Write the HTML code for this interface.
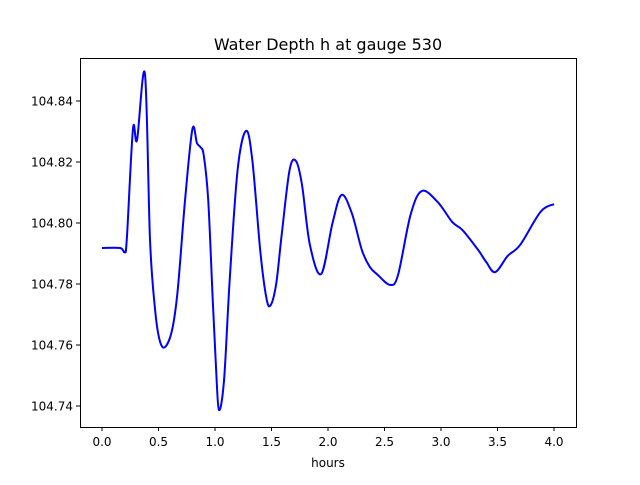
<!DOCTYPE html>
<html><head><meta charset="utf-8"><style>
body{margin:0;background:#fff;}
svg text{font-family:"DejaVu Sans","Liberation Sans",sans-serif;font-size:12px;fill:#000;}
</style></head><body>
<svg id="chart" width="640" height="480" xmlns="http://www.w3.org/2000/svg">
<rect width="640" height="480" fill="#fff"/>
<text x="328" y="50" text-anchor="middle" style="font-size:16px">Water Depth h at gauge 530</text>
<g id="axes"></g>
<path id="line" fill="none" stroke="#0000ff" stroke-width="2" stroke-linejoin="round"/>
<rect x="80.5" y="58.5" width="496" height="369" fill="none" stroke="#000" stroke-width="1"/>
<text x="328" y="467" text-anchor="middle">hours</text>
</svg>
<script>
const hours=[0,0.16,0.20,0.22,0.274,0.31,0.38,0.425,0.47,0.51,0.557,0.62,0.67,0.735,0.80,0.84,0.87,0.90,0.94,0.98,1.01,1.035,1.08,1.13,1.20,1.274,1.33,1.40,1.45,1.487,1.54,1.59,1.66,1.717,1.77,1.84,1.94,2.04,2.12,2.21,2.30,2.37,2.44,2.55,2.62,2.73,2.83,2.97,3.10,3.19,3.33,3.40,3.48,3.59,3.70,3.88,4.0];
const depth=[104.7918,104.7918,104.7905,104.7950,104.8308,104.8272,104.8489,104.7944,104.7715,104.7616,104.7593,104.7649,104.7780,104.8075,104.8308,104.8262,104.8249,104.8223,104.8075,104.7747,104.7518,104.7387,104.7485,104.7813,104.8174,104.8302,104.8207,104.7911,104.7764,104.7728,104.7797,104.7961,104.8174,104.8203,104.8125,104.7928,104.7833,104.8000,104.8092,104.8033,104.7911,104.7856,104.7830,104.7797,104.7830,104.8026,104.8105,104.8069,104.8003,104.7977,104.7911,104.7872,104.7839,104.7892,104.7928,104.8036,104.8062];
const xTicks=[0,0.5,1,1.5,2,2.5,3,3.5,4];
const xTickLabels=["0.0","0.5","1.0","1.5","2.0","2.5","3.0","3.5","4.0"];
const yTicks=[104.74,104.76,104.78,104.80,104.82,104.84];
const yTickLabels=["104.74","104.76","104.78","104.80","104.82","104.84"];
const xs=t=>102+t*113;
const ys=h=>406-(h-104.74)*3050;
const ns="http://www.w3.org/2000/svg";
const ax=document.getElementById('axes');
xTicks.forEach((t,i)=>{
 const l=document.createElementNS(ns,'line');
 
 
 l.setAttribute('x1',xs(t));l.setAttribute('x2',xs(t));l.setAttribute('y1',427);l.setAttribute('y2',431);l.setAttribute('stroke','#000');
 ax.appendChild(l);
 const tx=document.createElementNS(ns,'text');
 
 
 tx.setAttribute('x',xs(t));tx.setAttribute('y',446);tx.setAttribute('text-anchor','middle');tx.textContent=xTickLabels[i];
 ax.appendChild(tx);
});
yTicks.forEach((v,i)=>{
 const l=document.createElementNS(ns,'line');
 
 
 l.setAttribute('x1',76);l.setAttribute('x2',80);l.setAttribute('y1',ys(v));l.setAttribute('y2',ys(v));l.setAttribute('stroke','#000');
 ax.appendChild(l);
 const tx=document.createElementNS(ns,'text');
 
 
 tx.setAttribute('x',73);tx.setAttribute('y',ys(v)+4.5);tx.setAttribute('text-anchor','end');tx.textContent=yTickLabels[i];
 ax.appendChild(tx);
});
const P=hours.map((t,i)=>[xs(t),ys(depth[i])]);
let d='M'+P[0][0]+','+P[0][1];
for(let i=0;i<P.length-1;i++){
 const p0=P[Math.max(0,i-1)],p1=P[i],p2=P[i+1],p3=P[Math.min(P.length-1,i+2)];
 const k=1/6;
 const c1=[p1[0]+(p2[0]-p0[0])*k,p1[1]+(p2[1]-p0[1])*k];
 const c2=[p2[0]-(p3[0]-p1[0])*k,p2[1]-(p3[1]-p1[1])*k];
 d+=` C${c1[0]},${c1[1]} ${c2[0]},${c2[1]} ${p2[0]},${p2[1]}`;
}
document.getElementById('line').setAttribute('d',d);
</script>
</body></html>
